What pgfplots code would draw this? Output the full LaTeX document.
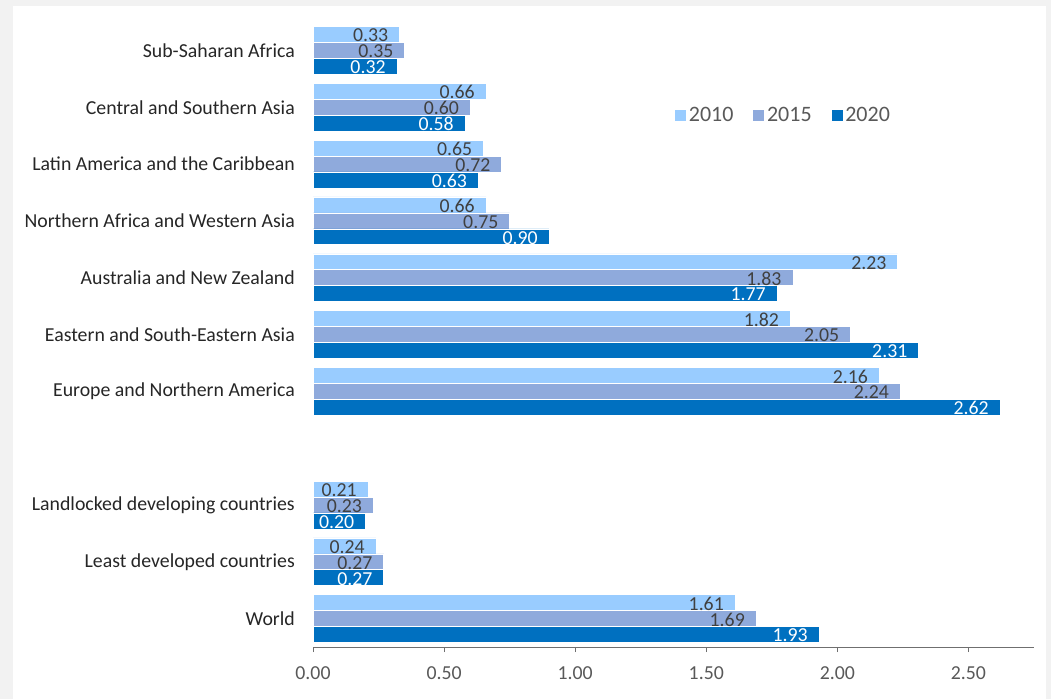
\documentclass[border=0pt]{standalone}
\usepackage{pgfplots}
\pgfplotsset{compat=1.18}
\usepackage{fontspec}
\setmainfont{Carlito}
\definecolor{cA}{HTML}{99CCFF}
\definecolor{cB}{HTML}{8FAADC}
\definecolor{cC}{HTML}{0070C0}
\definecolor{bgGray}{HTML}{F2F2F2}
\definecolor{txtDark}{HTML}{404040}
\definecolor{txtCat}{HTML}{262626}
\definecolor{tickGray}{HTML}{595959}
\definecolor{axGray}{HTML}{6F6F6F}
\pgfplotsset{
  sqlegend/.style={legend image code/.code={\fill[##1] (-3pt,-6pt) rectangle (9pt,6pt);}}
}
\newcommand{\fs}{\fontsize{19.8}{21}\selectfont}
\newcommand{\fl}{\fontsize{22}{24}\selectfont}
\begin{document}
\begin{tikzpicture}[x=1pt,y=1pt]
\fill[bgGray] (0,0) rectangle (1051,699);
\fill[white] (13,0) rectangle (1046,693);
\useasboundingbox (0,0) rectangle (1051,699);
\begin{axis}[
  at={(313pt,52pt)}, anchor=south west,
  scale only axis, width=721pt, height=625pt,
  xbar, bar width=0.28,
  xmin=0, xmax=2.75, ymin=-0.5, ymax=10.5,
  axis lines*=left,
  y axis line style={draw=none},
  x axis line style={draw=axGray, line width=1pt},
  xtick={0,0.5,1,1.5,2,2.5},
  ytick={0,1,2,4,5,6,7,8,9,10},
  yticklabels={World,Least developed countries,Landlocked developing countries,Europe and Northern America,Eastern and South-Eastern Asia,Australia and New Zealand,Northern Africa and Western Asia,Latin America and the Caribbean,Central and Southern Asia,Sub-Saharan Africa},
  ytick style={draw=none},
  xtick style={draw=axGray, line width=1pt},
  tick align=outside, major tick length=5pt,
  /pgf/number format/assume math mode=true,
  /pgf/number format/.cd, fixed, fixed zerofill, precision=2, /pgfplots/.cd,
  xticklabel style={font=\fs, text=tickGray, inner sep=0pt, yshift=-14pt},
  yticklabel style={font=\fs, text=txtCat, inner sep=0pt, xshift=-13pt},
  point meta=x,
  nodes near coords,
  nodes near coords align={anchor=east},
  every node near coord/.append style={font=\fs, inner sep=0pt, xshift=-11pt, yshift=-1pt, anchor=east},
  legend style={at={(0.652,0.851)}, anchor=center, draw=none, fill=none, legend columns=3,
    font=\fl, text=tickGray,
    /tikz/every even column/.append style={column sep=17pt}},
  legend cell align=left,
]
\addplot[xbar, bar shift=0.28, fill=cA, draw=white, line width=0.6pt, sqlegend,
  every node near coord/.append style={text=txtDark}] coordinates {
  (1.61,0) (0.24,1) (0.21,2) (2.16,4) (1.82,5) (2.23,6) (0.66,7) (0.65,8) (0.66,9) (0.33,10)};
\addplot[xbar, bar shift=0, fill=cB, draw=white, line width=0.6pt, sqlegend,
  every node near coord/.append style={text=txtDark}] coordinates {
  (1.69,0) (0.27,1) (0.23,2) (2.24,4) (2.05,5) (1.83,6) (0.75,7) (0.72,8) (0.60,9) (0.35,10)};
\addplot[xbar, bar shift=-0.28, fill=cC, draw=white, line width=0.6pt, sqlegend,
  every node near coord/.append style={text=white}] coordinates {
  (1.93,0) (0.27,1) (0.20,2) (2.62,4) (2.31,5) (1.77,6) (0.90,7) (0.63,8) (0.58,9) (0.32,10)};
\legend{2010,2015,2020}
\end{axis}
\end{tikzpicture}
\end{document}
